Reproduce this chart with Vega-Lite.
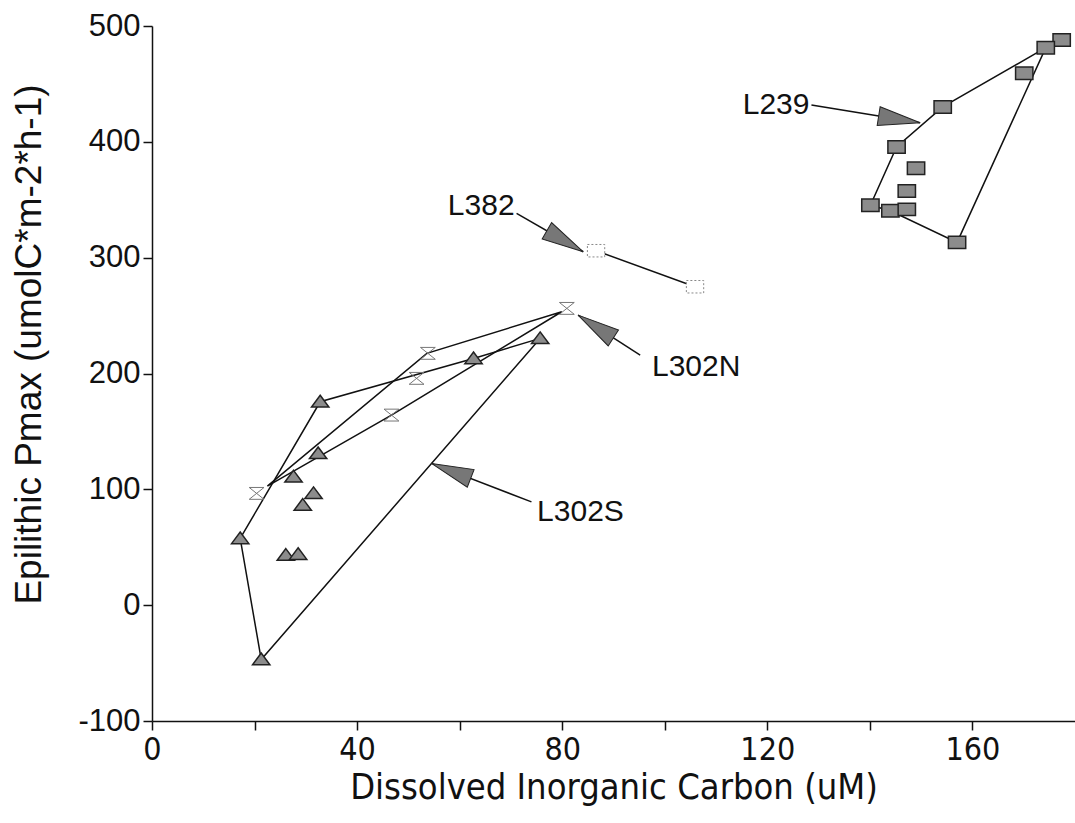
{
  "$schema": "https://vega.github.io/schema/vega-lite/v6.json",
  "width": 923,
  "height": 695,
  "autosize": {"type": "none"},
  "padding": {"left": 152, "top": 26, "right": 0, "bottom": 102},
  "background": "white",
  "config": {"font": "Liberation Sans", "view": {"stroke": null}},
  "datasets": {
    "points": [
      {"lake": "L239", "x": 177.4, "y": 487.9},
      {"lake": "L239", "x": 174.3, "y": 481.3},
      {"lake": "L239", "x": 170.1, "y": 459.2},
      {"lake": "L239", "x": 154.2, "y": 430.1},
      {"lake": "L239", "x": 145.2, "y": 395.5},
      {"lake": "L239", "x": 149.0, "y": 377.1},
      {"lake": "L239", "x": 147.2, "y": 357.5},
      {"lake": "L239", "x": 140.1, "y": 345.2},
      {"lake": "L239", "x": 144.0, "y": 340.5},
      {"lake": "L239", "x": 147.2, "y": 341.7},
      {"lake": "L239", "x": 157.0, "y": 313.2},
      {"lake": "L382", "x": 86.6, "y": 306.0},
      {"lake": "L382", "x": 105.9, "y": 274.9},
      {"lake": "L302N", "x": 80.9, "y": 256.2},
      {"lake": "L302N", "x": 53.8, "y": 217.4},
      {"lake": "L302N", "x": 51.6, "y": 195.8},
      {"lake": "L302N", "x": 46.7, "y": 164.1},
      {"lake": "L302N", "x": 20.4, "y": 96.5},
      {"lake": "L302S", "x": 75.7, "y": 230.3},
      {"lake": "L302S", "x": 62.7, "y": 213.0},
      {"lake": "L302S", "x": 32.8, "y": 175.6},
      {"lake": "L302S", "x": 32.4, "y": 131.0},
      {"lake": "L302S", "x": 27.6, "y": 110.8},
      {"lake": "L302S", "x": 31.5, "y": 96.5},
      {"lake": "L302S", "x": 29.4, "y": 86.4},
      {"lake": "L302S", "x": 17.2, "y": 57.6},
      {"lake": "L302S", "x": 26.1, "y": 43.2},
      {"lake": "L302S", "x": 28.5, "y": 44.0},
      {"lake": "L302S", "x": 21.3, "y": -46.9}
    ],
    "hulls": [
      {"lake": "L239", "ord": 1, "x": 174.3, "y": 481.3},
      {"lake": "L239", "ord": 2, "x": 154.2, "y": 430.1},
      {"lake": "L239", "ord": 3, "x": 145.2, "y": 395.5},
      {"lake": "L239", "ord": 4, "x": 140.1, "y": 345.2},
      {"lake": "L239", "ord": 5, "x": 144.0, "y": 340.5},
      {"lake": "L239", "ord": 6, "x": 157.0, "y": 313.2},
      {"lake": "L239", "ord": 7, "x": 174.3, "y": 481.3},
      {"lake": "L382", "ord": 1, "x": 86.6, "y": 306.0},
      {"lake": "L382", "ord": 2, "x": 105.9, "y": 274.9},
      {"lake": "L302N", "ord": 1, "x": 22.5, "y": 102.8},
      {"lake": "L302N", "ord": 2, "x": 53.6, "y": 217.4},
      {"lake": "L302N", "ord": 3, "x": 79.9, "y": 253.3},
      {"lake": "L302N", "ord": 4, "x": 46.7, "y": 164.1},
      {"lake": "L302N", "ord": 5, "x": 22.5, "y": 102.8},
      {"lake": "L302S", "ord": 1, "x": 17.2, "y": 57.6},
      {"lake": "L302S", "ord": 2, "x": 32.8, "y": 175.6},
      {"lake": "L302S", "ord": 3, "x": 62.7, "y": 213.0},
      {"lake": "L302S", "ord": 4, "x": 75.7, "y": 230.3},
      {"lake": "L302S", "ord": 5, "x": 21.3, "y": -46.9},
      {"lake": "L302S", "ord": 6, "x": 17.2, "y": 57.6}
    ],
    "arrows": [
      {"lake": "L382", "ord": 1, "x": 71.1, "y": 338.3},
      {"lake": "L382", "ord": 2, "x": 84.1, "y": 305.1},
      {"lake": "L239", "ord": 1, "x": 128.6, "y": 431.8},
      {"lake": "L239", "ord": 2, "x": 149.8, "y": 416.5},
      {"lake": "L302N", "ord": 1, "x": 95.2, "y": 215.9},
      {"lake": "L302N", "ord": 2, "x": 83.1, "y": 250.4},
      {"lake": "L302S", "ord": 1, "x": 74.0, "y": 89.2},
      {"lake": "L302S", "ord": 2, "x": 54.5, "y": 122.4}
    ],
    "labels": [
      {"lake": "L382", "x": 57.7, "y": 344.6},
      {"lake": "L239", "x": 115.2, "y": 431.8},
      {"lake": "L302N", "x": 97.5, "y": 205.5},
      {"lake": "L302S", "x": 75.1, "y": 80.3}
    ]
  },
  "encoding": {
    "x": {
      "field": "x",
      "type": "quantitative",
      "scale": {"domain": [0, 180], "nice": false, "zero": false},
      "axis": {
        "values": [0, 20, 40, 60, 80, 100, 120, 140, 160],
        "labelExpr": "datum.value % 40 === 0 ? datum.label : ''",
        "labelFont": "DejaVu Sans Condensed",
        "labelFontSize": 32,
        "labelColor": "#111",
        "labelBaseline": "alphabetic",
        "labelPadding": 29,
        "labelFlush": false,
        "labelOverlap": false,
        "tickColor": "#111",
        "tickSize": 9,
        "tickWidth": 1.5,
        "domainColor": "#111",
        "domainWidth": 1.5,
        "grid": false,
        "title": "Dissolved Inorganic Carbon (uM)",
        "titleFont": "DejaVu Sans Condensed",
        "titleFontSize": 36,
        "titleFontWeight": "normal",
        "titleColor": "#111",
        "titleBaseline": "alphabetic",
        "titleY": 77
      }
    },
    "y": {
      "field": "y",
      "type": "quantitative",
      "scale": {"domain": [-100, 500], "nice": false, "zero": false},
      "axis": {
        "values": [-100, 0, 100, 200, 300, 400, 500],
        "labelExpr": "replace(datum.label, '\u2212', '-')",
        "labelFontSize": 31,
        "labelColor": "#111",
        "labelPadding": 3,
        "tickColor": "#111",
        "tickSize": 9,
        "tickWidth": 1.5,
        "domainColor": "#111",
        "domainWidth": 1.5,
        "grid": false,
        "title": "Epilithic Pmax (umolC*m-2*h-1)",
        "titleFontSize": 37,
        "titleFontWeight": "normal",
        "titleColor": "#111",
        "titleAngle": -90,
        "titleAlign": "center",
        "titleBaseline": "middle",
        "titleX": -123,
        "titleY": 318
      }
    }
  },
  "layer": [
    {
      "mark": {"type": "rule", "color": "#555", "strokeWidth": 1, "strokeDash": [2, 1]},
      "encoding": {"y": {"datum": 0}, "x": null}
    },
    {
      "mark": {"type": "rule", "color": "#111", "strokeWidth": 2},
      "encoding": {"y": {"datum": 500}, "x": null}
    },
    {
      "data": {"name": "hulls"},
      "mark": {"type": "line", "color": "#111", "strokeWidth": 1.5},
      "encoding": {"detail": {"field": "lake"}, "order": {"field": "ord", "type": "quantitative"}}
    },
    {
      "data": {"name": "arrows"},
      "mark": {"type": "line", "color": "#111", "strokeWidth": 1.5},
      "encoding": {"detail": {"field": "lake"}, "order": {"field": "ord", "type": "quantitative"}}
    },
    {
      "data": {"name": "points"},
      "transform": [{"filter": "datum.lake === 'L239'"}],
      "mark": {"type": "point", "shape": "M-1,-0.72 L1,-0.72 L1,0.72 L-1,0.72 Z", "size": 300, "filled": true, "fill": "#8c8c8c", "stroke": "#222", "strokeWidth": 1.5, "opacity": 1}
    },
    {
      "data": {"name": "points"},
      "transform": [{"filter": "datum.lake === 'L382'"}],
      "mark": {"type": "point", "shape": "M-1,-0.72 L1,-0.72 L1,0.72 L-1,0.72 Z", "size": 300, "filled": true, "fill": "white", "stroke": "#888", "strokeWidth": 1, "strokeDash": [2, 2], "opacity": 1}
    },
    {
      "data": {"name": "points"},
      "transform": [{"filter": "datum.lake === 'L302N'"}],
      "mark": {"type": "point", "shape": "M-1,-0.8 L1,-0.8 L-1,0.8 L1,0.8 Z", "size": 220, "filled": false, "stroke": "#777", "strokeWidth": 1, "opacity": 1}
    },
    {
      "data": {"name": "points"},
      "transform": [{"filter": "datum.lake === 'L302S'"}],
      "mark": {"type": "point", "shape": "M0,-0.75 L1,0.6 L-1,0.6 Z", "size": 300, "filled": true, "fill": "#8c8c8c", "stroke": "#222", "strokeWidth": 1.5, "opacity": 1}
    },
    {
      "data": {"name": "arrows"},
      "transform": [{"filter": "datum.lake === 'L382' && datum.ord === 2"}],
      "mark": {"type": "point", "shape": "M0,0 L-2,-0.45 L-2,0.45 Z", "size": 1764, "angle": 30, "filled": true, "fill": "#777", "stroke": "#222", "strokeWidth": 1, "opacity": 1}
    },
    {
      "data": {"name": "arrows"},
      "transform": [{"filter": "datum.lake === 'L239' && datum.ord === 2"}],
      "mark": {"type": "point", "shape": "M0,0 L-2,-0.45 L-2,0.45 Z", "size": 1764, "angle": 9, "filled": true, "fill": "#777", "stroke": "#222", "strokeWidth": 1, "opacity": 1}
    },
    {
      "data": {"name": "arrows"},
      "transform": [{"filter": "datum.lake === 'L302N' && datum.ord === 2"}],
      "mark": {"type": "point", "shape": "M0,0 L-2,-0.45 L-2,0.45 Z", "size": 1764, "angle": 213, "filled": true, "fill": "#777", "stroke": "#222", "strokeWidth": 1, "opacity": 1}
    },
    {
      "data": {"name": "arrows"},
      "transform": [{"filter": "datum.lake === 'L302S' && datum.ord === 2"}],
      "mark": {"type": "point", "shape": "M0,0 L-2,-0.45 L-2,0.45 Z", "size": 1764, "angle": 201, "filled": true, "fill": "#777", "stroke": "#222", "strokeWidth": 1, "opacity": 1}
    },
    {
      "data": {"name": "labels"},
      "mark": {"type": "text", "align": "left", "baseline": "middle", "fontSize": 30, "color": "#111"},
      "encoding": {"text": {"field": "lake"}}
    }
  ]
}
